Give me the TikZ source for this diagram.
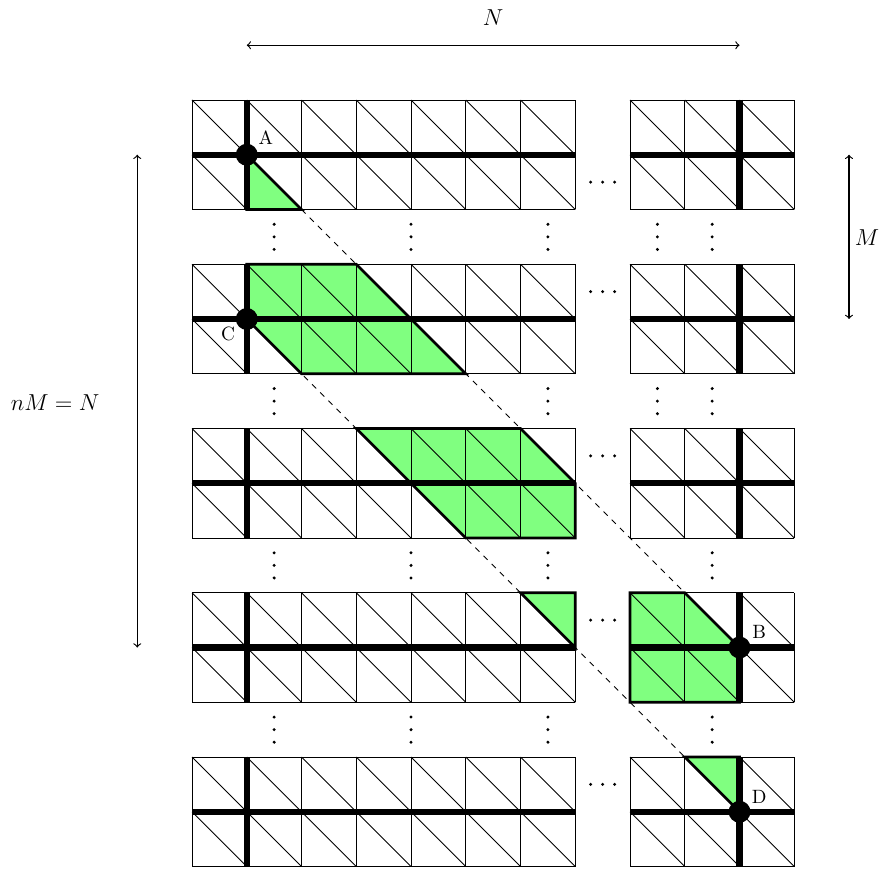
\documentclass[tikz,border=0pt]{standalone}
\definecolor{lgreen}{HTML}{80FF80}
\begin{document}
\begin{tikzpicture}[
  gridln/.style={line width=0.5pt},
  heavy/.style={line width=3.2pt},
  regionfill/.style={fill=lgreen},
  regionborder/.style={draw=black, line width=1.4pt},
  dashln/.style={dashed, line width=0.5pt},
  dimarrow/.style={<->, line width=0.6pt},
  lbl/.style={font=\normalsize, inner sep=0pt},
  biglbl/.style={font=\large, inner sep=0pt},
  vd/.pic={\foreach \dd in {-0.23,0,0.23} \fill (0,\dd) circle (0.03);},
  hd/.pic={\foreach \dd in {-0.22,0,0.22} \fill (\dd,0) circle (0.03);},
]
\useasboundingbox (-3.507,-14.046) rectangle (12.584,1.826);

% named points
\coordinate (A) at (1,-1);
\coordinate (B) at (10,-10);
\coordinate (C) at (1,-4);
\coordinate (D) at (10,-13);
\coordinate (E) at (2,-2);

% green regions (fill)
\fill[regionfill] (1,-1) -- (1,-2) -- (2,-2) -- cycle;
\fill[regionfill] (1,-3) -- (3,-3) -- (5,-5) -- (2,-5) -- (1,-4) -- cycle;
\fill[regionfill] (3,-6) -- (6,-6) -- (7,-7) -- (7,-8) -- (5,-8) -- cycle;
\fill[regionfill] (6,-9) -- (7,-9) -- (7,-10) -- cycle;
\fill[regionfill] (8,-9) -- (9,-9) -- (10,-10) -- (10,-11) -- (8,-11) -- cycle;
\fill[regionfill] (9,-12) -- (10,-12) -- (10,-13) -- cycle;

% dashed lines
\draw[dashln] (E) -- (B);
\draw[dashln] (C) -- (D);

% grids
\foreach \k [evaluate=\k as \t using -3*\k] in {0,...,4} {
  \draw[gridln] (0,\t-2) grid (7,\t);
  \draw[gridln] (8,\t-2) grid (11,\t);
  \foreach \i in {0,...,6,8,9,10} {
    \draw[gridln] (\i,\t) -- ++(1,-1);
    \draw[gridln] (\i,\t-1) -- ++(1,-1);
  }
}

% green regions (border)
\draw[regionborder] (1,-1) -- (1,-2) -- (2,-2) -- cycle;
\draw[regionborder] (1,-3) -- (3,-3) -- (5,-5) -- (2,-5) -- (1,-4) -- cycle;
\draw[regionborder] (3,-6) -- (6,-6) -- (7,-7) -- (7,-8) -- (5,-8) -- cycle;
\draw[regionborder] (6,-9) -- (7,-9) -- (7,-10) -- cycle;
\draw[regionborder] (8,-9) -- (9,-9) -- (10,-10) -- (10,-11) -- (8,-11) -- cycle;
\draw[regionborder] (9,-12) -- (10,-12) -- (10,-13) -- cycle;

% heavy cross lines
\foreach \k [evaluate=\k as \t using -3*\k] in {0,...,4} {
  \draw[heavy] (1,\t) -- (1,\t-2);
  \draw[heavy] (10,\t) -- (10,\t-2);
  \draw[heavy] (0,\t-1) -- (7,\t-1);
  \draw[heavy] (8,\t-1) -- (11,\t-1);
}

% points
\foreach \p in {A,B,C,D} \fill (\p) circle (0.2);
\node[lbl] (lA) at (1.35,-0.69) {A};
\node[lbl] (lB) at (10.36,-9.72) {B};
\node[lbl] (lC) at (0.66,-4.27) {C};
\node[lbl] (lD) at (10.36,-12.73) {D};

% dots
\foreach \y in {-1.5,-3.5,-6.5,-9.5,-12.5} \pic at (7.5,\y) {hd};
\foreach \x in {1.5,4,6.5,8.5,9.5} \pic at (\x,-2.5) {vd};
\foreach \x in {1.5,6.5,8.5,9.5} \pic at (\x,-5.5) {vd};
\foreach \x in {1.5,4,6.5,9.5} \pic at (\x,-8.5) {vd};
\foreach \x in {1.5,4,6.5,9.5} \pic at (\x,-11.5) {vd};

% dimension arrows
\coordinate (nl) at (1,1);
\coordinate (nr) at (10,1);
\draw[dimarrow] (nl) -- (nr);
\node[biglbl] (lN) at (5.5,1.5) {$N$};

\coordinate (lt) at (-1,-1);
\coordinate (lb) at (-1,-10);
\draw[dimarrow] (lt) -- (lb);
\node[biglbl] (lnM) at (-2.5,-5.52) {$nM = N$};

\coordinate (rt) at (12,-1);
\coordinate (rb) at (12,-4);
\draw[dimarrow] (rt) -- (rb);
\node[biglbl] (lM) at (12.33,-2.52) {$M$};
\end{tikzpicture}
\end{document}
